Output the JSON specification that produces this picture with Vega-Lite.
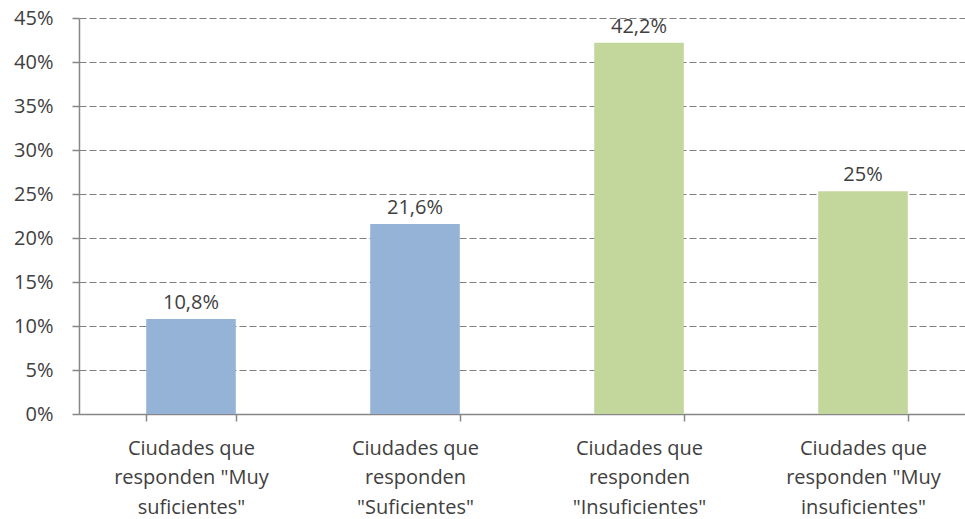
{
  "$schema": "https://vega.github.io/schema/vega-lite/v6.json",
  "width": 896,
  "height": 396,
  "autosize": {"type": "none"},
  "padding": {"left": 79, "top": 18, "right": 0, "bottom": 105},
  "background": "white",
  "config": {
    "view": {"stroke": null},
    "font": "Open Sans"
  },
  "data": {
    "values": [
      {"cat": "Ciudades que|responden \"Muy|suficientes\"", "value": 10.8, "label": "10,8%", "grupo": "suficientes"},
      {"cat": "Ciudades que|responden|\"Suficientes\"", "value": 21.6, "label": "21,6%", "grupo": "suficientes"},
      {"cat": "Ciudades que|responden|\"Insuficientes\"", "value": 42.2, "label": "42,2%", "grupo": "insuficientes"},
      {"cat": "Ciudades que|responden \"Muy|insuficientes\"", "value": 25.3, "label": "25%", "grupo": "insuficientes"}
    ]
  },
  "encoding": {
    "x": {
      "field": "cat",
      "type": "nominal",
      "sort": null,
      "scale": {"paddingInner": 0.6, "paddingOuter": 0.3},
      "axis": {
        "title": null,
        "labelAngle": 0,
        "labelExpr": "split(datum.label, '|')",
        "labelFont": "Open Sans",
        "labelFontSize": 20,
        "labelColor": "#404040",
        "labelLineHeight": 29.5,
        "labelPadding": 17,
        "labelBaseline": "top",
        "tickBand": "extent",
        "tickSize": 7,
        "tickColor": "#868686",
        "tickWidth": 1.5,
        "domainColor": "#868686",
        "domainWidth": 1.5,
        "grid": false
      }
    },
    "y": {
      "field": "value",
      "type": "quantitative",
      "scale": {"domain": [0, 45], "nice": false},
      "axis": {
        "title": null,
        "values": [0, 5, 10, 15, 20, 25, 30, 35, 40, 45],
        "labelExpr": "datum.value + '%'",
        "labelFont": "Open Sans",
        "labelFontSize": 20,
        "labelColor": "#404040",
        "labelPadding": 19,
        "tickSize": 7,
        "tickColor": "#868686",
        "tickWidth": 1.5,
        "domainColor": "#868686",
        "domainWidth": 1.5,
        "grid": true,
        "gridColor": "#808080",
        "gridWidth": 1.2,
        "gridDash": [7, 3]
      }
    }
  },
  "layer": [
    {
      "mark": {"type": "bar"},
      "encoding": {
        "color": {
          "field": "grupo",
          "type": "nominal",
          "scale": {"domain": ["suficientes", "insuficientes"], "range": ["#95B3D7", "#C3D69B"]},
          "legend": null
        }
      }
    },
    {
      "mark": {"type": "text", "baseline": "alphabetic", "dy": -10, "fontSize": 20, "color": "#404040", "font": "Open Sans"},
      "encoding": {"text": {"field": "label"}}
    }
  ]
}
